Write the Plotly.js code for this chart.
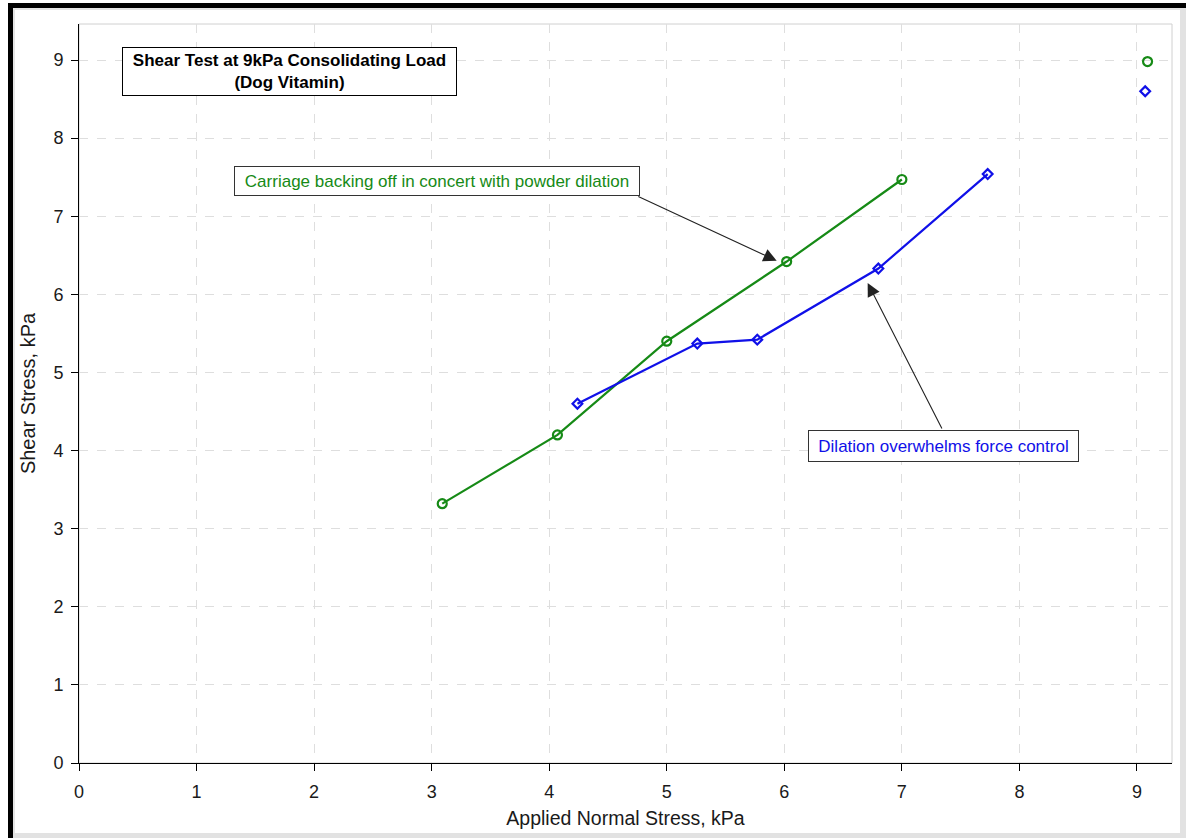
<!DOCTYPE html>
<html>
<head>
<meta charset="utf-8">
<script src="https://cdn.plot.ly/plotly-3.0.1.min.js"></script>
<style>
  html, body { margin: 0; padding: 0; background: #fff; }
  #wrap { position: relative; width: 1186px; height: 838px; overflow: hidden; }
  #chart { position: absolute; left: 0; top: 0; width: 1186px; height: 838px; }
  .fr { position: absolute; pointer-events: none; }
</style>
</head>
<body>
<div id="wrap">
  <div id="chart"></div>
  <div class="fr" style="left:8px;top:3px;width:1178px;height:5px;background:#000;"></div>
  <div class="fr" style="left:8px;top:3px;width:5px;height:835px;background:#000;"></div>
  <div class="fr" style="left:13px;top:8px;width:2px;height:830px;background:#e4e4e4;"></div>
  <div class="fr" style="left:13px;top:8px;width:1173px;height:2px;background:#e4e4e4;"></div>
  <div class="fr" style="left:1180px;top:8px;width:6px;height:830px;background:#e2e2e2;"></div>
  <div class="fr" style="left:13px;top:833px;width:1173px;height:5px;background:#e2e2e2;"></div>
</div>
<script>
// Green series (circles): carriage backing off
const greenX = [3.09, 4.07, 5.00, 6.02, 7.00];
const greenY = [3.32, 4.20, 5.40, 6.42, 7.47];
const greenExtraX = [9.09];
const greenExtraY = [8.98];

// Blue series (diamonds): dilation overwhelms force control
const blueX = [4.24, 5.26, 5.77, 6.80, 7.73];
const blueY = [4.60, 5.37, 5.42, 6.33, 7.54];
const blueExtraX = [9.07];
const blueExtraY = [8.60];

const xTicks = [0, 1, 2, 3, 4, 5, 6, 7, 8, 9];
const yTicks = [0, 1, 2, 3, 4, 5, 6, 7, 8, 9];

const titleText = 'Shear Test at 9kPa Consolidating Load';
const subtitleText = '(Dog Vitamin)';
const greenNote = 'Carriage backing off in concert with powder dilation';
const blueNote = 'Dilation overwhelms force control';
const xTitle = 'Applied Normal Stress, kPa';
const yTitle = 'Shear Stress, kPa';

const GREEN = '#168a16';
const BLUE = '#1010e8';
const FONT = 'Liberation Sans, Arial, sans-serif';

const traces = [
  { x: greenX, y: greenY, type: 'scatter', mode: 'lines+markers',
    line: { color: GREEN, width: 2.2 },
    marker: { symbol: 'circle-open', size: 9, color: GREEN, line: { width: 2.2, color: GREEN } },
    showlegend: false },
  { x: greenExtraX, y: greenExtraY, type: 'scatter', mode: 'markers',
    marker: { symbol: 'circle-open', size: 9, color: GREEN, line: { width: 2.2, color: GREEN } },
    showlegend: false },
  { x: blueX, y: blueY, type: 'scatter', mode: 'lines+markers',
    line: { color: BLUE, width: 2.2 },
    marker: { symbol: 'diamond-open', size: 7.5, color: BLUE, line: { width: 2.2, color: BLUE } },
    showlegend: false },
  { x: blueExtraX, y: blueExtraY, type: 'scatter', mode: 'markers',
    marker: { symbol: 'diamond-open', size: 7.5, color: BLUE, line: { width: 2.2, color: BLUE } },
    showlegend: false }
];

const axisCommon = {
  showline: true, linecolor: '#000', linewidth: 1,
  ticks: 'outside', ticklen: 7, tickcolor: '#000', tickwidth: 1,
  showgrid: true, gridcolor: '#dedede', gridwidth: 1, griddash: 'dash',
  zeroline: false,
  tickfont: { family: FONT, size: 18, color: '#1a1a1a' }
};

const layout = {
  width: 1186, height: 838,
  margin: { l: 79, r: 14, t: 24, b: 75 },
  paper_bgcolor: '#fff', plot_bgcolor: '#fff',
  font: { family: FONT },
  xaxis: Object.assign({}, axisCommon, {
    range: [0, 9.298], tickvals: xTicks, ticktext: xTicks.map(String),
    ticklabelstandoff: 5,
    title: { text: xTitle, font: { family: FONT, size: 19.5, color: '#1a1a1a' }, standoff: 10 }
  }),
  yaxis: Object.assign({}, axisCommon, {
    range: [0, 9.461], tickvals: yTicks, ticktext: yTicks.map(String),
    ticklabelstandoff: 4,
    title: { text: yTitle, font: { family: FONT, size: 20, color: '#1a1a1a' }, standoff: 12 }
  }),
  shapes: [
    { type: 'rect', xref: 'paper', yref: 'paper', x0: 0, x1: 1, y0: 0, y1: 1,
      line: { color: '#d0d0d0', width: 1 }, layer: 'below' }
  ],
  annotations: [
    { xref: 'x', yref: 'y', x: 1.79, y: 8.854, showarrow: false,
      text: '<b>' + titleText + '</b><br><b>' + subtitleText + '</b>',
      font: { family: FONT, size: 17, color: '#000' },
      bgcolor: '#fff', bordercolor: '#000', borderwidth: 1, borderpad: 0,
      width: 333, height: 47 },
    { xref: 'x', yref: 'y', x: 3.044, y: 7.452, showarrow: false,
      text: greenNote, font: { family: FONT, size: 17, color: GREEN },
      bgcolor: '#fff', bordercolor: '#333', borderwidth: 1, borderpad: 0,
      width: 404, height: 28 },
    { xref: 'x', yref: 'y', x: 7.35, y: 4.059, showarrow: false,
      text: blueNote, font: { family: FONT, size: 17, color: BLUE },
      bgcolor: '#fff', bordercolor: '#333', borderwidth: 1, borderpad: 0,
      width: 269, height: 30 },
    { xref: 'x', yref: 'y', x: 5.935, y: 6.43, axref: 'x', ayref: 'y', ax: 4.745, ay: 7.26,
      text: '', showarrow: true, arrowhead: 2, arrowsize: 2.4, arrowwidth: 1.1, arrowcolor: '#222',
      standoff: 0, startstandoff: 0 },
    { xref: 'x', yref: 'y', x: 6.709, y: 6.146, axref: 'x', ayref: 'y', ax: 7.347, ay: 4.264,
      text: '', showarrow: true, arrowhead: 2, arrowsize: 2.4, arrowwidth: 1.1, arrowcolor: '#222',
      standoff: 0, startstandoff: 0 }
  ]
};

Plotly.newPlot('chart', traces, layout, { displayModeBar: false, staticPlot: true });
</script>
</body>
</html>
